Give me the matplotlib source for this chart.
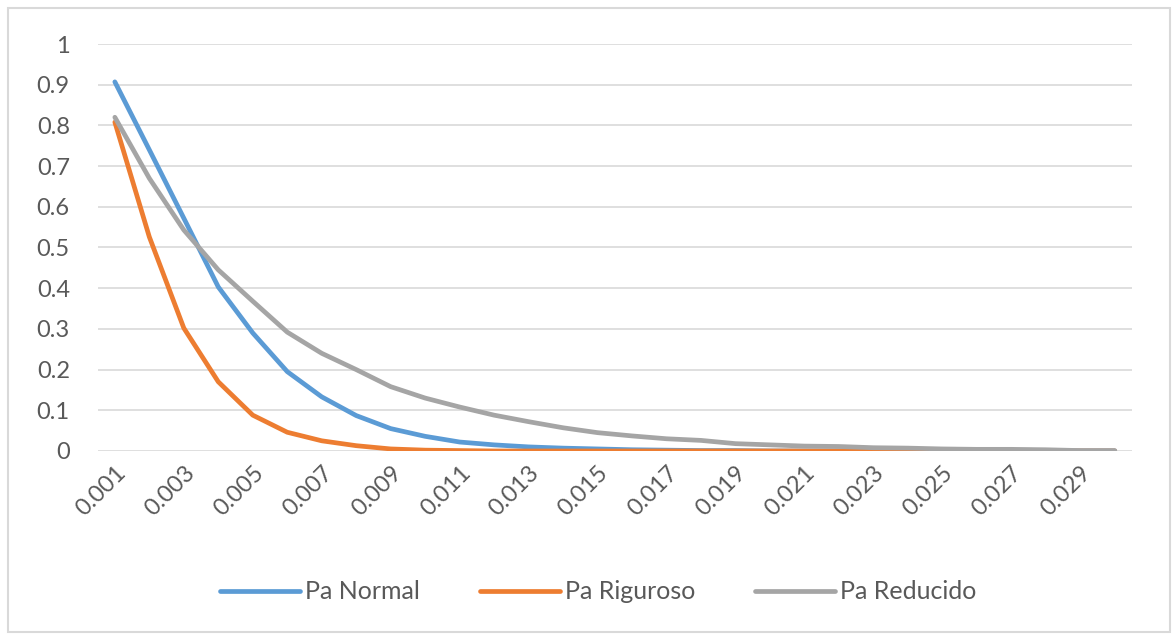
import matplotlib.pyplot as plt
import matplotlib.patches as mpatches
import numpy as np

plt.rcParams['font.family'] = ['Lato', 'DejaVu Sans']

# Proportion defectuosa (categorías del eje x)
p = [f'{v / 1000:.3f}' for v in range(1, 31)]

pa_normal = [0.907, 0.74, 0.572, 0.403, 0.29, 0.195, 0.133, 0.087, 0.055, 0.036,
             0.022, 0.015, 0.01, 0.007, 0.005, 0.003, 0.002, 0.001, 0.001, 0.0,
             0.0, 0.0, 0.0, 0.0, 0.0, 0.0, 0.0, 0.0, 0.0, 0.0]
pa_riguroso = [0.808, 0.526, 0.302, 0.17, 0.088, 0.046, 0.025, 0.013, 0.005, 0.002,
               0.001, 0.0, 0.0, 0.0, 0.0, 0.0, 0.0, 0.0, 0.0, 0.0,
               0.0, 0.0, 0.0, 0.0, 0.0, 0.0, 0.0, 0.0, 0.0, 0.0]
pa_reducido = [0.82, 0.67, 0.543, 0.445, 0.368, 0.292, 0.24, 0.2, 0.158, 0.13,
               0.108, 0.088, 0.072, 0.057, 0.045, 0.037, 0.03, 0.026, 0.018, 0.015,
               0.012, 0.011, 0.008, 0.007, 0.005, 0.004, 0.004, 0.003, 0.001, 0.001]

fig = plt.figure(figsize=(11.76, 6.35), dpi=100)
ax = fig.add_axes([0.083, 0.2898, 0.8796, 0.6409])

x = np.arange(len(p))
ax.plot(x, pa_normal, color='#5B9BD5', lw=3.4, label='Pa Normal', solid_capstyle='round')
ax.plot(x, pa_riguroso, color='#ED7D31', lw=3.4, label='Pa Riguroso', solid_capstyle='round')
ax.plot(x, pa_reducido, color='#A5A5A5', lw=3.4, label='Pa Reducido', solid_capstyle='round')

ax.set_xlim(-0.5, len(p) - 0.5)
ax.set_ylim(0, 1)
ax.set_yticks(np.arange(0, 1.01, 0.1))
ax.set_yticklabels(['0'] + [f'{v:.1f}' for v in np.arange(0.1, 0.95, 0.1)] + ['1'])
ax.set_xticks(x[::2])
ax.set_xticklabels(p[::2], rotation=45, ha='right', rotation_mode='anchor')

ax.yaxis.grid(True, color='#D9D9D9', lw=1.2)
ax.set_axisbelow(True)
for s in ax.spines.values():
    s.set_visible(False)
ax.tick_params(axis='both', length=0, colors='#595959', labelsize=17)
ax.tick_params(axis='y', pad=20)
ax.tick_params(axis='x', pad=8)

ax.legend(loc='center', bbox_to_anchor=(0.484, -0.3465), ncol=3, frameon=False,
          fontsize=18, handlelength=3.2, handletextpad=0.2, columnspacing=2.4,
          labelcolor='#595959')

# marco exterior del gráfico
fig.patches.append(mpatches.Rectangle((0.007, 0.005), 0.988, 0.983, transform=fig.transFigure,
                                      fill=False, edgecolor='#D9D9D9', lw=1.5))

fig.savefig('out.png', dpi=100)
